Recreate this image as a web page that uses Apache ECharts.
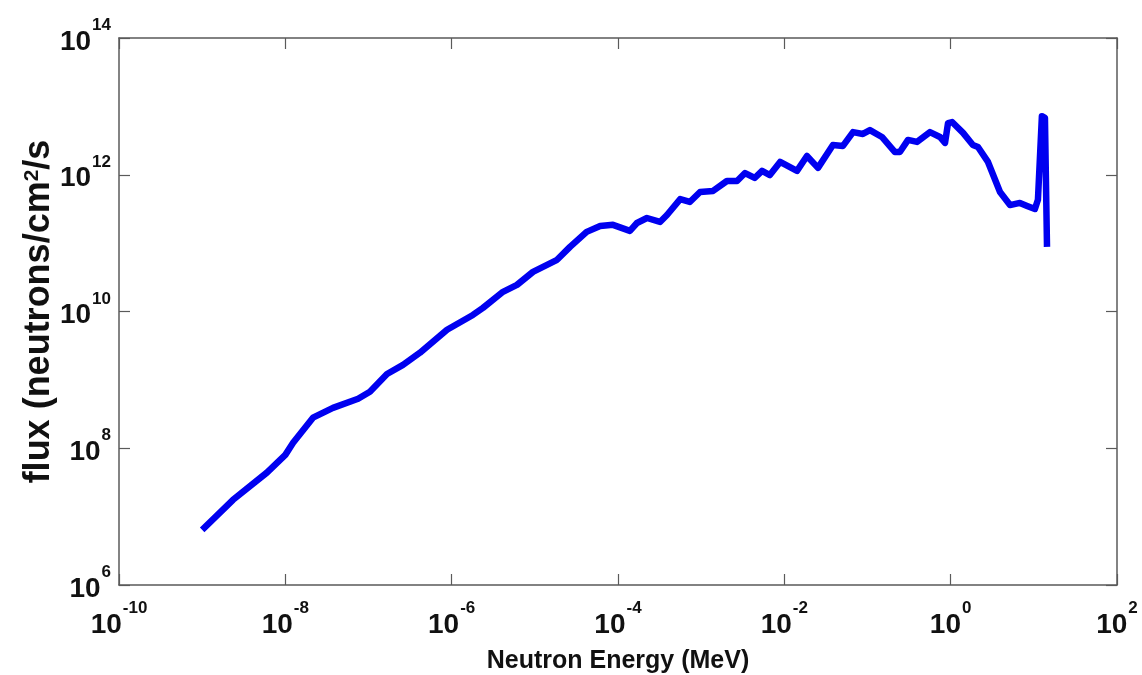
<!DOCTYPE html>
<html>
<head>
<meta charset="utf-8">
<script src="https://cdn.jsdelivr.net/npm/echarts@6/dist/echarts.min.js"></script>
<style>
html,body{margin:0;padding:0;background:#fff;}
#chart{width:1142px;height:675px;}
</style>
</head>
<body>
<div id="chart"></div>
<script>
// Neutron energy (MeV)
var energy = [
  1.0e-9, 2.35e-9, 6.0e-9, 1.0e-8, 1.24e-8, 2.15e-8, 3.74e-8, 7.5e-8, 1.04e-7, 1.67e-7,
  2.6e-7, 4.16e-7, 8.8e-7, 1.8e-6, 2.38e-6, 4.14e-6, 6.1e-6, 9.5e-6, 1.85e-5, 2.65e-5,
  4.2e-5, 6.1e-5, 8.7e-5, 1.39e-4, 1.69e-4, 2.23e-4, 3.2e-4, 3.88e-4, 5.6e-4, 7.3e-4,
  9.7e-4, 1.39e-3, 2.04e-3, 2.7e-3, 3.37e-3, 4.4e-3, 5.4e-3, 6.7e-3, 8.9e-3, 1.42e-2,
  1.87e-2, 2.54e-2, 3.84e-2, 5.07e-2, 6.7e-2, 8.8e-2, 0.107, 0.149, 0.214, 0.245,
  0.307, 0.394, 0.564, 0.743, 0.855, 0.93, 1.04, 1.41, 1.85, 2.13,
  2.81, 3.92, 5.17, 6.8, 8.3, 10.3, 11.2, 12.5, 13.6, 14.4
];
// flux (neutrons/cm^2/s)
var flux = [
  6.4e6, 1.76e7, 4.4e7, 8.0e7, 1.2e8, 2.8e8, 3.9e8, 5.3e8, 6.7e8, 1.22e9,
  1.66e9, 2.5e9, 5.4e9, 8.9e9, 1.13e10, 1.94e10, 2.45e10, 3.8e10, 5.7e10, 8.8e10,
  1.46e11, 1.78e11, 1.85e11, 1.51e11, 1.97e11, 2.33e11, 2.04e11, 2.58e11, 4.4e11, 4.0e11,
  5.6e11, 5.8e11, 8.1e11, 8.1e11, 1.06e12, 8.97e11, 1.14e12, 9.9e11, 1.54e12, 1.14e12,
  1.88e12, 1.26e12, 2.73e12, 2.64e12, 4.2e12, 3.95e12, 4.5e12, 3.57e12, 2.15e12, 2.15e12,
  3.23e12, 3.02e12, 4.2e12, 3.57e12, 2.92e12, 5.7e12, 5.9e12, 4.1e12, 2.73e12, 2.55e12,
  1.54e12, 5.6e11, 3.6e11, 3.87e11, 3.5e11, 3.16e11, 4.3e11, 7.2e12, 6.8e12, 8.8e10
];
// tick values
var xTicks = [1e-10, 1e-8, 1e-6, 1e-4, 1e-2, 1e0, 1e2];
var yTicks = [1e6, 1e8, 1e10, 1e12, 1e14];

var xTitle = 'Neutron Energy (MeV)';
var yTitleMain = 'flux (neutrons/cm';
var yTitleSup = '2';
var yTitleEnd = '/s';

var seriesData = energy.map(function (e, i) { return [e, flux[i]]; });

var FONT = "'Liberation Sans', Arial, Helvetica, sans-serif";
var AXC = '#5a5a5a';

function powLabel(v) {
  var ex = Math.round(Math.log(v) / Math.LN10);
  return '{b|10}{e|' + ex + '}';
}
var richLab = {
  b: { fontFamily: FONT, fontWeight: 'bold', fontSize: 28, lineHeight: 30, color: '#111', verticalAlign: 'bottom', padding: [0, 0, 8, 0] },
  e: { fontFamily: FONT, fontWeight: 'bold', fontSize: 17, lineHeight: 18, color: '#111', verticalAlign: 'bottom', padding: [0, 0, 30, 1] }
};

function xAx(pos, show) {
  return {
    type: 'log', logBase: 10, min: 1e-10, max: 1e2, position: pos,
    axisLine: { show: true, onZero: false, lineStyle: { color: AXC, width: 1.5 } },
    axisTick: { show: true, inside: true, length: 11, customValues: xTicks, lineStyle: { color: AXC, width: 1.2 } },
    axisLabel: { show: show, customValues: xTicks, margin: 32, formatter: powLabel, rich: richLab, showMinLabel: true, showMaxLabel: true, hideOverlap: false },
    splitLine: { show: false },
    minorTick: { show: false },
    name: show ? xTitle : '',
    nameLocation: 'middle', nameGap: 64, nameMoveOverlap: false,
    nameTextStyle: { fontFamily: FONT, fontWeight: 'bold', fontSize: 25, color: '#111' }
  };
}
function yAx(pos, show) {
  return {
    type: 'log', logBase: 10, min: 1e6, max: 1e14, position: pos,
    axisLine: { show: true, onZero: false, lineStyle: { color: AXC, width: 1.5 } },
    axisTick: { show: true, inside: true, length: 11, customValues: yTicks, lineStyle: { color: AXC, width: 1.2 } },
    axisLabel: { show: show, customValues: yTicks, margin: 8, padding: [22, 0, 0, 0], formatter: powLabel, rich: richLab, showMinLabel: true, showMaxLabel: true, hideOverlap: false },
    splitLine: { show: false },
    minorTick: { show: false },
    name: show ? '{m|' + yTitleMain + '}{s|' + yTitleSup + '}{m|' + yTitleEnd + '}' : '',
    nameLocation: 'middle', nameGap: 62, nameRotate: 90, nameMoveOverlap: false,
    nameTextStyle: {
      rich: {
        m: { fontFamily: FONT, fontWeight: 'bold', fontSize: 36, lineHeight: 36, color: '#111', verticalAlign: 'bottom' },
        s: { fontFamily: FONT, fontWeight: 'bold', fontSize: 21, lineHeight: 20, color: '#111', verticalAlign: 'bottom', padding: [0, 0, 14, 0] }
      }
    }
  };
}

var chart = echarts.init(document.getElementById('chart'), null, { renderer: 'canvas' });
chart.setOption({
  backgroundColor: '#ffffff',
  animation: false,
  grid: { left: 119, right: 25, top: 38, bottom: 90, containLabel: false, outerBoundsMode: 'none' },
  xAxis: [xAx('bottom', true), xAx('top', false)],
  yAxis: [yAx('left', true), yAx('right', false)],
  series: [{
    type: 'line',
    xAxisIndex: 0, yAxisIndex: 0,
    data: seriesData,
    showSymbol: false,
    smooth: false,
    lineStyle: { color: '#0000f0', width: 6.5, join: 'round' }
  }]
});
</script>
</body>
</html>
